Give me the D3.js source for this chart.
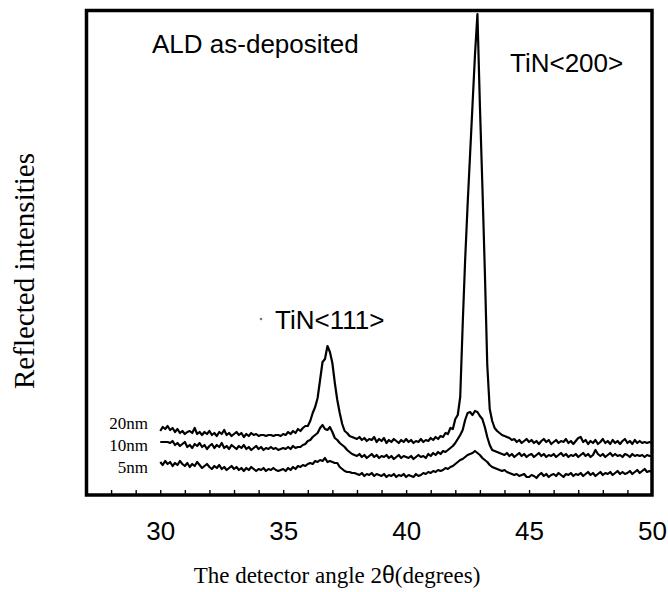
<!DOCTYPE html>
<html>
<head>
<meta charset="utf-8">
<script src="https://cdn.jsdelivr.net/npm/d3@7"></script>
<style>
  body { margin: 0; background: #fff; }
  svg { display: block; }
</style>
</head>
<body>
<svg id="chart" width="668" height="592"></svg>
<script>
// XRD scans of ALD TiN films, sampled every 0.1 degree from 30 to 50 (2θ)
const angleStart = 30;
const angleStep = 0.1;

// Reflected intensity (a.u., offset per film) for each film thickness
const scan20nm = [
  64, 68, 66, 69, 65, 67, 63, 66, 62, 64,
  61, 63, 64, 62, 67, 61, 63, 60, 63, 61,
  64, 60, 62, 59, 63, 61, 65, 60, 62, 59,
  61, 63, 60, 62, 58, 61, 59, 62, 60, 61,
  59, 60, 60, 59, 60, 60, 59, 60, 60, 59,
  61, 60, 63, 61, 64, 62, 66, 64, 67, 69,
  69, 74, 82, 88, 97, 115, 133, 136, 149, 143,
  132, 112, 95, 82, 71, 64, 62, 59, 58, 57,
  56, 58, 55, 57, 54, 56, 55, 58, 53, 56,
  54, 57, 52, 55, 53, 56, 54, 52, 55, 53,
  56, 53, 55, 52, 54, 53, 56, 53, 55, 54,
  57, 55, 58, 56, 59, 58, 62, 61, 67, 66,
  76, 80, 98, 170, 235, 290, 340, 390, 440, 481,
  390, 310, 225, 130, 86, 74, 67, 64, 62, 60,
  59, 58, 57, 55, 56, 53, 55, 52, 54, 56,
  53, 55, 52, 54, 51, 54, 56, 53, 55, 51,
  53, 55, 52, 54, 53, 56, 52, 54, 51, 54,
  57, 58, 53, 55, 51, 54, 52, 55, 51, 53,
  56, 52, 54, 51, 55, 52, 54, 51, 54, 56,
  52, 54, 51, 55, 52, 54, 52, 53, 52, 53,
  52
];

const scan10nm = [
  53, 53, 53, 53, 52, 54, 50, 52, 49, 51,
  53, 48, 50, 47, 51, 49, 52, 48, 50, 46,
  49, 51, 47, 50, 48, 52, 47, 49, 46, 50,
  48, 46, 49, 47, 50, 46, 48, 45, 47, 49,
  46, 48, 45, 47, 46, 48, 46, 47, 45, 46,
  47, 46, 48, 46, 49, 47, 48, 48, 50, 51,
  54, 55, 58, 60, 62, 67, 70, 66, 65, 68,
  63, 57, 55, 52, 50, 48, 45, 43, 41, 40,
  39, 41, 38, 40, 37, 39, 41, 38, 40, 37,
  39, 38, 40, 37, 39, 36, 38, 40, 37, 39,
  38, 37, 39, 36, 38, 40, 38, 39, 37, 41,
  39, 42, 40, 43, 41, 44, 43, 45, 47, 49,
  52, 56, 60, 65, 75, 82, 83, 80, 84, 83,
  79, 76, 68, 58, 50, 45, 44, 43, 42, 41,
  40, 42, 39, 41, 38, 40, 42, 39, 41, 38,
  40, 41, 38, 40, 42, 39, 41, 38, 40, 39,
  41, 38, 40, 42, 39, 41, 38, 40, 39, 41,
  38, 40, 42, 39, 41, 38, 40, 45, 41, 39,
  41, 38, 40, 42, 39, 41, 39, 40, 38, 41,
  40, 38, 41, 39, 40, 39, 40, 38, 40, 39,
  39
];

const scan5nm = [
  33, 30, 34, 31, 33, 29, 32, 30, 34, 31,
  29, 32, 28, 31, 29, 33, 30, 27, 29, 31,
  28, 26, 29, 27, 30, 26, 28, 25, 27, 29,
  26, 28, 25, 27, 24, 27, 25, 28, 26, 24,
  26, 25, 27, 24, 26, 25, 27, 25, 24, 25,
  26, 24, 27, 25, 28, 26, 29, 28, 30, 29,
  31, 32, 31, 34, 33, 35, 34, 37, 33, 34,
  33, 32, 32, 28, 26, 24, 23, 23, 22, 22,
  21, 20, 22, 19, 21, 20, 22, 19, 21, 20,
  19, 21, 18, 20, 19, 21, 18, 20, 19, 21,
  18, 20, 19, 18, 21, 19, 20, 22, 21, 23,
  22, 24, 23, 25, 24, 25, 27, 26, 28, 29,
  31, 33, 35, 36, 38, 40, 41, 42, 44, 42,
  40, 37, 35, 33, 30, 28, 27, 26, 25, 24,
  25, 23, 22, 21, 20, 21, 19, 20, 21, 18,
  18, 20, 19, 17, 20, 22, 19, 21, 18, 20,
  21, 19, 22, 20, 18, 21, 20, 22, 19, 21,
  20, 22, 19, 21, 23, 20, 22, 19, 21, 23,
  20, 22, 21, 23, 20, 22, 24, 21, 23, 21,
  22, 24, 21, 23, 25, 22, 24, 26, 23, 24,
  23
];

const filmLabels = ["20nm", "10nm", "5nm"];
const minorTicks = [28, 29, 30, 31, 32, 33, 34, 35, 36, 37, 38, 39, 40, 41, 42, 43, 44, 45, 46, 47, 48, 49];
const labelTicks = [30, 35, 40, 45, 50];
const peakLabels = ["TiN<111>", "TiN<200>"];

const scans = [scan20nm, scan10nm, scan5nm];

const svg = d3.select("#chart");
const plotLeft = 86.5, plotRight = 652, plotTop = 10.5, plotBottom = 495;

const x = d3.scaleLinear().domain([27, 50]).range([plotLeft, plotRight]);
const y = d3.scaleLinear().domain([0, plotBottom - plotTop]).range([plotBottom, plotTop]);

// inward-pointing minor ticks along the bottom edge
svg.append("g")
  .attr("transform", `translate(0,${plotBottom})`)
  .call(d3.axisBottom(x).tickValues(minorTicks).tickSize(-5).tickFormat(""))
  .call(g => g.select(".domain").remove())
  .call(g => g.selectAll(".tick line").attr("stroke", "#000").attr("stroke-width", 1.4));

// numeric tick labels
svg.append("g")
  .attr("transform", `translate(0,${plotBottom})`)
  .call(d3.axisBottom(x).tickValues(labelTicks).tickSize(0).tickPadding(26.5).tickFormat(d3.format("d")))
  .call(g => g.select(".domain").remove())
  .call(g => g.selectAll("text")
    .attr("font-family", "'Liberation Sans', Arial, sans-serif")
    .attr("font-size", 26)
    .attr("fill", "#000"));

// scan traces
const line = d3.line()
  .x((d, i) => x(angleStart + i * angleStep))
  .y(d => y(d));

svg.append("g")
  .selectAll("path")
  .data(scans)
  .join("path")
  .attr("d", line)
  .attr("fill", "none")
  .attr("stroke", "#000")
  .attr("stroke-width", 2.2)
  .attr("stroke-linejoin", "round");

// plot frame
svg.append("rect")
  .attr("x", plotLeft).attr("y", plotTop)
  .attr("width", plotRight - plotLeft).attr("height", plotBottom - plotTop)
  .attr("fill", "none")
  .attr("stroke", "#000")
  .attr("stroke-width", 3.5);

// film thickness labels
const serif = "'Liberation Serif', 'Times New Roman', serif";
const sans = "'Liberation Sans', Arial, sans-serif";
const labelBaselines = [429, 451, 473];
svg.append("g")
  .selectAll("text")
  .data(filmLabels)
  .join("text")
  .attr("x", 148)
  .attr("y", (d, i) => labelBaselines[i])
  .attr("text-anchor", "end")
  .attr("font-family", serif)
  .attr("font-size", 17)
  .text(d => d);

// annotations
svg.append("text")
  .attr("x", 152).attr("y", 53)
  .attr("font-family", sans).attr("font-size", 26)
  .text("ALD as-deposited");

svg.append("text")
  .attr("x", 275).attr("y", 329)
  .attr("font-family", sans).attr("font-size", 26)
  .text(peakLabels[0]);

svg.append("circle")
  .attr("cx", 261).attr("cy", 319).attr("r", 1.3)
  .attr("fill", "#777");

svg.append("text")
  .attr("x", 510).attr("y", 72)
  .attr("font-family", sans).attr("font-size", 26)
  .text(peakLabels[1]);

// axis titles
const xTitle = svg.append("text")
  .attr("x", 337).attr("y", 583)
  .attr("text-anchor", "middle")
  .attr("font-family", serif).attr("font-size", 23);
xTitle.append("tspan").text("The detector angle 2");
xTitle.append("tspan").attr("font-family", sans).text("θ");
xTitle.append("tspan").text("(degrees)");

svg.append("text")
  .attr("transform", "translate(34,271) rotate(-90)")
  .attr("text-anchor", "middle")
  .attr("font-family", serif).attr("font-size", 29)
  .text("Reflected intensities");
</script>
</body>
</html>
